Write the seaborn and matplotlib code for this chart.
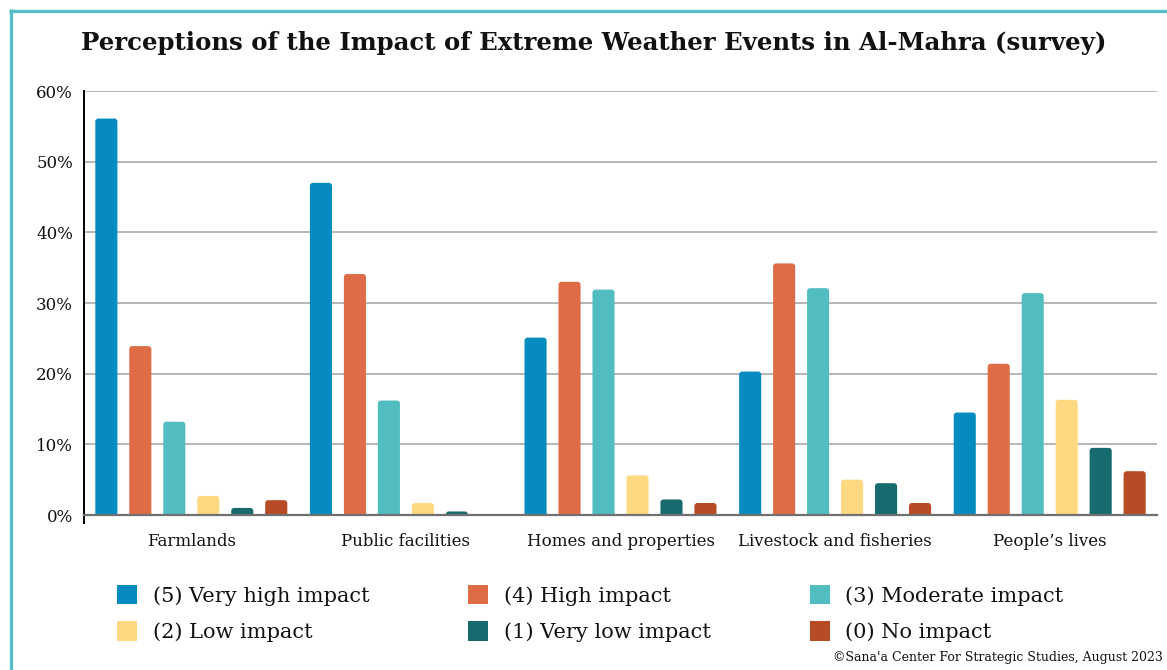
import matplotlib
matplotlib.use("Agg")
import matplotlib.pyplot as plt
from matplotlib.patches import Patch, FancyBboxPatch, Rectangle
from matplotlib.lines import Line2D
from matplotlib.ticker import FuncFormatter, FixedLocator
import seaborn as sns
import pandas as pd
import numpy as np

categories = ["Farmlands", "Public facilities", "Homes and properties",
              "Livestock and fisheries", "People\u2019s lives"]
series = ["(5) Very high impact", "(4) High impact", "(3) Moderate impact",
          "(2) Low impact", "(1) Very low impact", "(0) No impact"]
very_high = [56.1, 47.0, 25.1, 20.3, 14.5]
high = [23.9, 34.1, 33.0, 35.6, 21.4]
moderate = [13.2, 16.2, 31.9, 32.1, 31.4]
low = [2.7, 1.7, 5.6, 5.0, 16.3]
very_low = [1.0, 0.5, 2.2, 4.5, 9.5]
no_impact = [2.1, 0.0, 1.7, 1.7, 6.2]
colors = ["#068BC1", "#DE6D47", "#52BDC1", "#FED982", "#176B6E", "#B84A25"]

title = "Perceptions of the Impact of Extreme Weather Events in Al-Mahra (survey)"
credit = "\u00a9Sana'a Center For Strategic Studies, August 2023"

values = [very_high, high, moderate, low, very_low, no_impact]
df = pd.DataFrame([
    {"category": c, "series": s, "value": v}
    for s, vals in zip(series, values)
    for c, v in zip(categories, vals)
])

sns.set_theme(style="white")
plt.rcParams["font.family"] = ["DejaVu Serif"]

fig = plt.figure(figsize=(11.67, 6.70), dpi=100)
ax = fig.add_axes([84 / 1167, 1 - 515 / 670, (1157 - 84) / 1167, (515 - 91) / 670])

sns.barplot(data=df, x="category", y="value", hue="series", hue_order=series,
            order=categories, palette=colors, width=0.95, gap=0.35,
            legend=False, ax=ax, saturation=1)

# round the top corners of the bars
rx_px = 3.0
x_per_px = 5.0 / (1157 - 84)
y_per_px = 60.0 / (515 - 91)
for p in list(ax.patches):
    if not isinstance(p, Rectangle):
        continue
    x0, y0 = p.get_x(), p.get_y()
    w, h = p.get_width(), p.get_height()
    if h <= 0:
        p.remove()
        continue
    r = rx_px * x_per_px
    aspect = y_per_px / x_per_px
    extra = rx_px * y_per_px
    fb = FancyBboxPatch((x0, y0 - extra), w, h + extra,
                        boxstyle=f"round,pad=0,rounding_size={r}",
                        mutation_aspect=aspect,
                        facecolor=p.get_facecolor(), edgecolor="none",
                        zorder=p.get_zorder())
    ax.add_patch(fb)
    p.remove()

ax.set_xlim(-0.5, 4.5)
ax.set_ylim(0, 60)
ax.set_xlabel("")
ax.set_ylabel("")
ax.set_yticks(np.arange(0, 61, 10))
ax.yaxis.set_major_formatter(FuncFormatter(lambda v, _: f"{v:.0f}%"))
ax.grid(axis="y", color="#a9a9a9", linewidth=1.2)
ax.set_axisbelow(True)

for s in ["top", "right"]:
    ax.spines[s].set_visible(False)
ax.spines["left"].set_color("black")
ax.spines["left"].set_linewidth(1.4)
ax.spines["left"].set_bounds(-1.15, 60)
ax.spines["bottom"].set_color("#707070")
ax.spines["bottom"].set_linewidth(1.6)
ax.spines["bottom"].set_zorder(5)

ax.tick_params(axis="y", length=0, pad=8, labelsize=12, labelcolor="#111111")
ax.tick_params(axis="x", which="major", length=0, pad=13, labelsize=12, labelcolor="#111111")
ax.xaxis.set_minor_locator(FixedLocator(np.arange(-0.5, 5.0, 1.0)))
ax.tick_params(axis="x", which="minor", length=6, width=1.4, color="#707070", direction="out")

fig.text(594 / 1167, 1 - 43 / 670, title, ha="center", va="center",
         fontsize=17.6, fontweight="bold", color="#111111")

handles = [Patch(facecolor=c, edgecolor="none", label=s) for c, s in zip(colors, series)]
order = [0, 3, 1, 4, 2, 5]
leg = fig.legend([handles[i] for i in order], [series[i] for i in order],
                 ncol=3, loc="upper left",
                 bbox_to_anchor=(117 / 1167, 1 - 585 / 670),
                 frameon=False, fontsize=15, handlelength=0.96, handleheight=1.05,
                 handletextpad=0.75, columnspacing=4.75, labelspacing=0.74,
                 borderaxespad=0, borderpad=0)
for t in leg.get_texts():
    t.set_color("#111111")

fig.text(1163 / 1167, 1 - 658 / 670, credit, ha="right", va="center",
         fontsize=9, color="#111111")

teal = "#55BFC5"
fig.add_artist(Line2D([9.3 / 1167, 1.0], [1 - 10.5 / 670, 1 - 10.5 / 670],
                      transform=fig.transFigure, color=teal, linewidth=2.4,
                      solid_capstyle="butt"))
fig.add_artist(Line2D([10.5 / 1167, 10.5 / 1167], [1 - 9.3 / 670, 0.0],
                      transform=fig.transFigure, color=teal, linewidth=2.4,
                      solid_capstyle="butt"))

fig.savefig("out.png", dpi=100, facecolor="white")
